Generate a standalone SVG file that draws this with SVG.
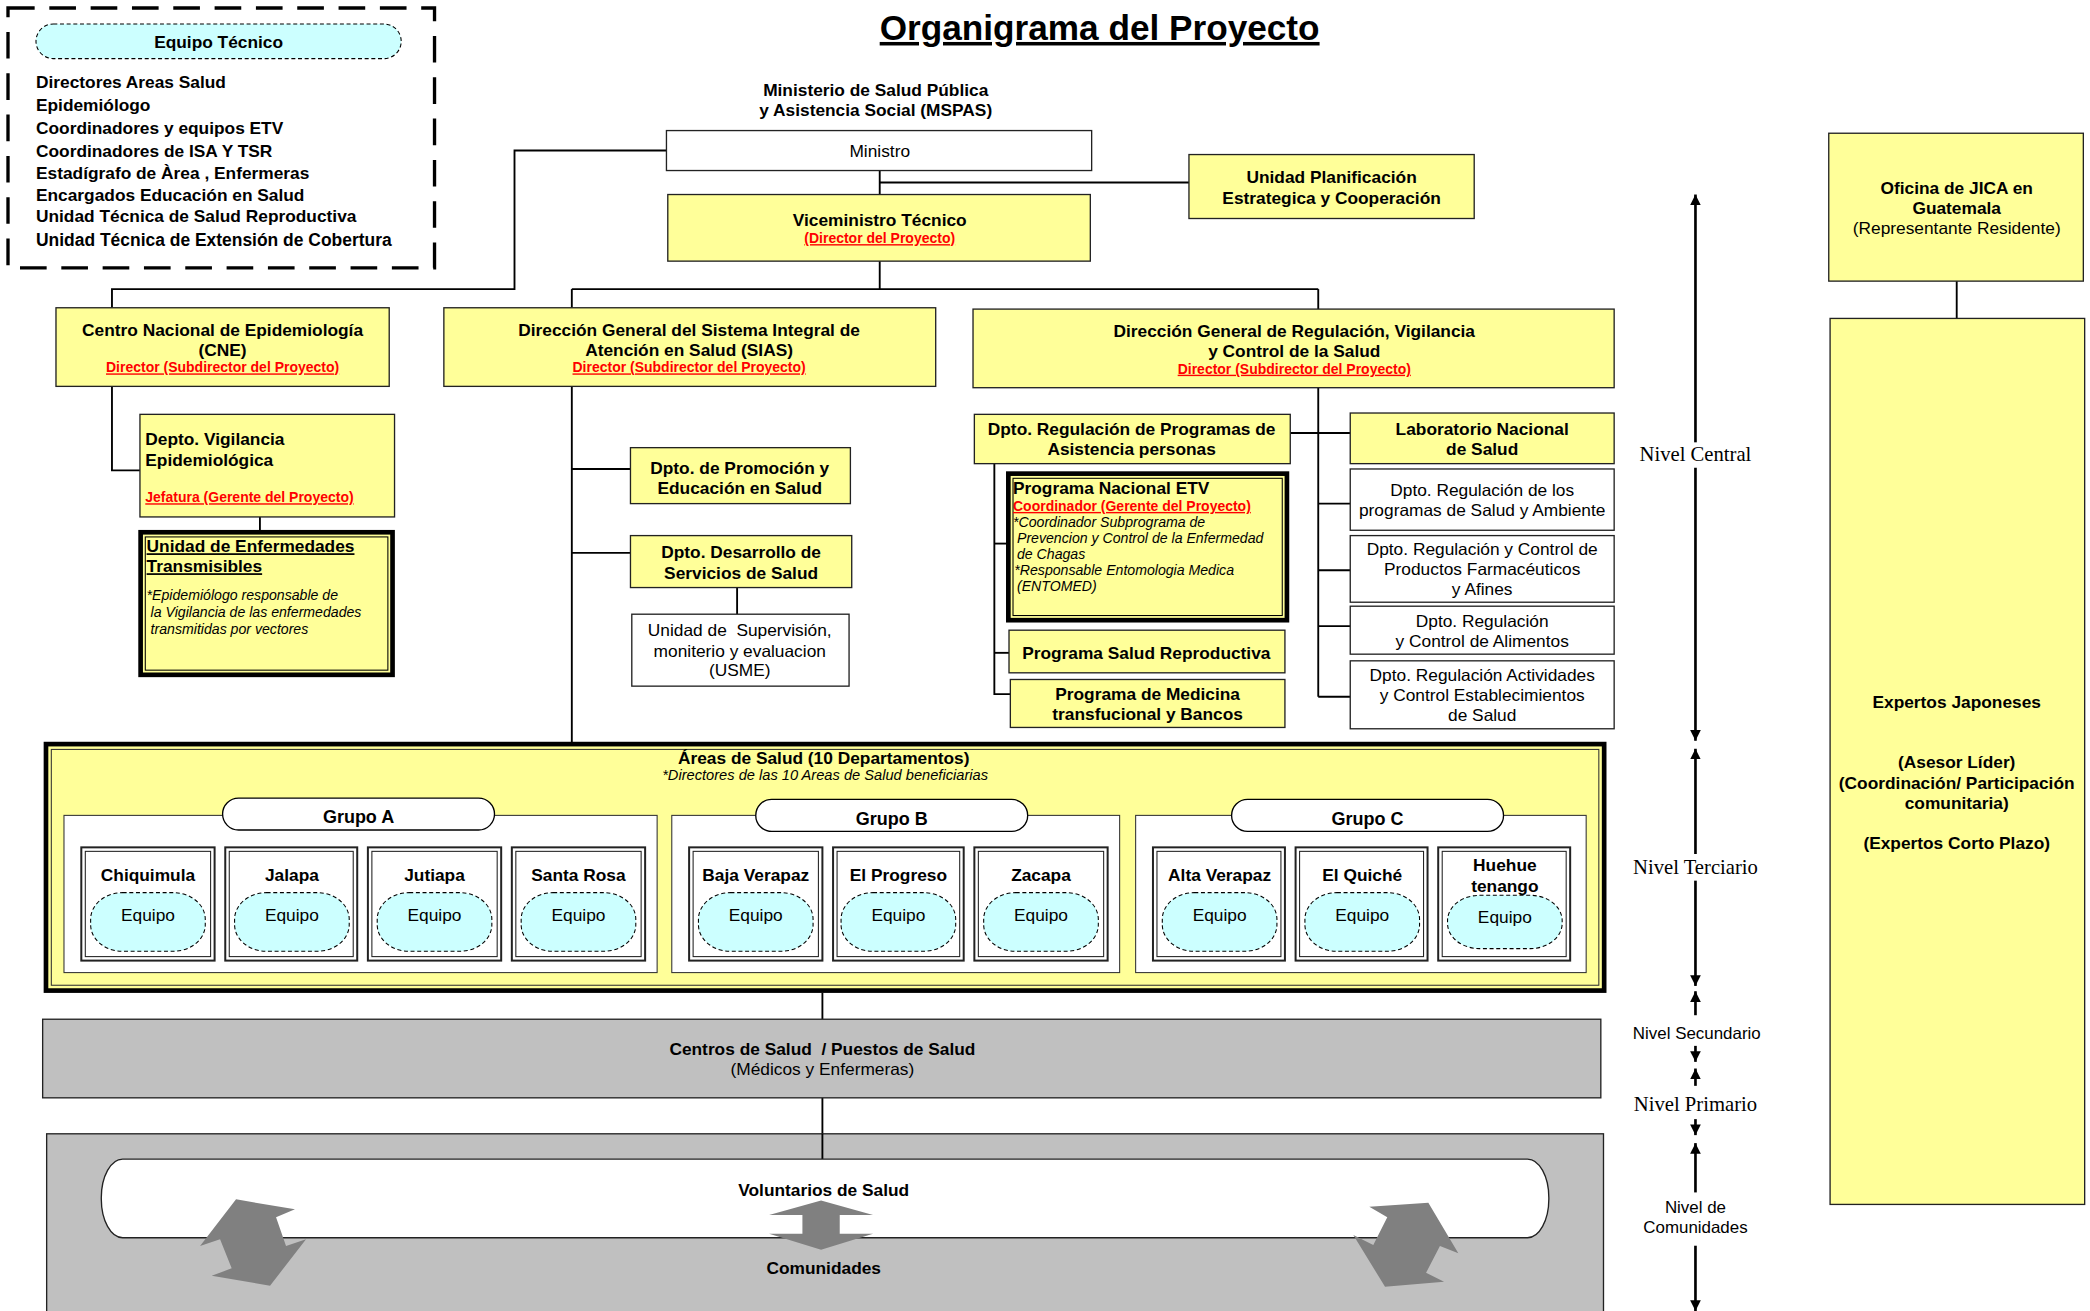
<svg xmlns="http://www.w3.org/2000/svg" width="2090" height="1311" viewBox="0 0 2090 1311">
<style>
text{font-family:"Liberation Sans",Arial,sans-serif;fill:#000}
.b{font-weight:bold;font-size:13px}
.r{font-size:13px}
.m{text-anchor:middle}
.red{font-weight:bold;font-size:10.5px;fill:#ff0000;text-decoration:underline}
.it{font-style:italic;font-size:10.6px}
.tm{font-family:"Liberation Serif","Times New Roman",serif;font-size:15.5px}
.j{font-size:13px}
.y{fill:#ffff99;stroke:#222;stroke-width:1}
.w{fill:#fff;stroke:#222;stroke-width:1}
.g{fill:#c0c0c0;stroke:#222;stroke-width:1}
.eq{fill:#ccffff;stroke:#000;stroke-width:0.8;stroke-dasharray:3 2}
.c{fill:none;stroke:#000;stroke-width:1.4}
.lv{fill:none;stroke:#000;stroke-width:2}
.ga{fill:#808080;stroke:none}
</style>
<defs>
<marker id="ah" viewBox="0 0 10 10" refX="10" refY="5" markerWidth="4" markerHeight="4.5" orient="auto-start-reverse" markerUnits="strokeWidth">
<path d="M0,0 L10,5 L0,10 z" fill="#000"/>
</marker>
</defs>
<g transform="scale(1.33291,1.33232)">

<text class="m" x="825" y="30" style="font-weight:bold;font-size:26.4px;text-decoration:underline">Organigrama del Proyecto</text>

<g id="equipo-tecnico">
<rect x="6" y="6" width="320" height="195" fill="#fff" stroke="#000" stroke-width="2.5" stroke-dasharray="20 11"/>
<rect x="27" y="18" width="274" height="26" rx="13" class="eq"/>
<text class="b m" x="164" y="36">Equipo Técnico</text>
<text class="b" x="27" y="66">Directores Areas Salud</text>
<text class="b" x="27" y="83.5">Epidemiólogo</text>
<text class="b" x="27" y="100.5">Coordinadores y equipos ETV</text>
<text class="b" x="27" y="117.5">Coordinadores de ISA Y TSR</text>
<text class="b" x="27" y="134.5">Estadígrafo de Àrea , Enfermeras</text>
<text class="b" x="27" y="151">Encargados Educación en Salud</text>
<text class="b" x="27" y="167">Unidad Técnica de Salud Reproductiva</text>
<text class="b" x="27" y="184.5" style="font-size:13.1px">Unidad Técnica de Extensión de Cobertura</text>
</g>

<g id="connectors">
<path class="c" d="M500,113 H386 V217 H84 V231"/>
<path class="c" d="M660,128 V146"/>
<path class="c" d="M660,137 H892"/>
<path class="c" d="M660,196 V217"/>
<path class="c" d="M429,217 H989"/>
<path class="c" d="M429,217 V231"/>
<path class="c" d="M989,217 V232"/>
<path class="c" d="M84,290 V353 H105"/>
<path class="c" d="M195,388 V398"/>
<path class="c" d="M429,290 V557"/>
<path class="c" d="M429,352 H473"/>
<path class="c" d="M429,415 H473"/>
<path class="c" d="M553,441 V461"/>
<path class="c" d="M989,291 V523"/>
<path class="c" d="M968,325 H1013"/>
<path class="c" d="M989,378 H1013"/>
<path class="c" d="M989,428 H1013"/>
<path class="c" d="M989,470 H1013"/>
<path class="c" d="M989,523 H1013"/>
<path class="c" d="M746,348 V521 H758"/>
<path class="c" d="M746,408 H755"/>
<path class="c" d="M746,490 H757"/>
<path class="c" d="M617,745 V765"/>
<path class="c" d="M617,824 V870"/>
<path class="c" d="M1468,211 V239"/>
</g>

<g id="mspas">
<text class="b m" x="657" y="72">Ministerio de Salud Pública</text>
<text class="b m" x="657" y="87">y Asistencia Social (MSPAS)</text>
</g>
<g id="ministro">
<rect class="w" x="500" y="98" width="319" height="30"/>
<text class="r m" x="660" y="117.5">Ministro</text>
</g>
<g id="viceministro">
<rect class="y" x="501" y="146" width="317" height="50"/>
<text class="b m" x="660" y="169.5">Viceministro Técnico</text>
<text class="red m" x="660" y="182.5">(Director del Proyecto)</text>
</g>
<g id="unidad-planificacion">
<rect class="y" x="892" y="116" width="214" height="48"/>
<text class="b m" x="999" y="137">Unidad Planificación</text>
<text class="b m" x="999" y="153">Estrategica y Cooperación</text>
</g>

<g id="cne">
<rect class="y" x="42" y="231" width="250" height="59"/>
<text class="b m" x="167" y="252">Centro Nacional de Epidemiología</text>
<text class="b m" x="167" y="267">(CNE)</text>
<text class="red m" x="167" y="279.5">Director (Subdirector del Proyecto)</text>
</g>
<g id="sias">
<rect class="y" x="333" y="231" width="369" height="59"/>
<text class="b m" x="517" y="252">Dirección General del Sistema Integral de</text>
<text class="b m" x="517" y="267">Atención en Salud (SIAS)</text>
<text class="red m" x="517" y="279.5">Director (Subdirector del Proyecto)</text>
</g>
<g id="dg-regulacion">
<rect class="y" x="730" y="232" width="481" height="59"/>
<text class="b m" x="971" y="253">Dirección General de Regulación, Vigilancia</text>
<text class="b m" x="971" y="268">y Control de la Salud</text>
<text class="red m" x="971" y="280.5">Director (Subdirector del Proyecto)</text>
</g>

<g id="depto-vigilancia">
<rect class="y" x="105" y="311" width="191" height="77"/>
<text class="b" x="109" y="334">Depto. Vigilancia</text>
<text class="b" x="109" y="349.5">Epidemiológica</text>
<text class="red" x="109" y="377">Jefatura (Gerente del Proyecto)</text>
</g>
<g id="unidad-enfermedades">
<rect x="105.5" y="399.5" width="189" height="107" fill="#ffff99" stroke="#000" stroke-width="3.5"/>
<rect x="109" y="403" width="182" height="100" fill="none" stroke="#000" stroke-width="0.8"/>
<text class="b" x="110" y="414.5" style="text-decoration:underline">Unidad de Enfermedades</text>
<text class="b" x="110" y="429.5" style="text-decoration:underline">Transmisibles</text>
<text class="it" x="110" y="450.5">*Epidemiólogo responsable de</text>
<text class="it" x="113" y="463">la Vigilancia de las enfermedades</text>
<text class="it" x="113" y="475.5">transmitidas por vectores</text>
</g>

<g id="promocion">
<rect class="y" x="473" y="336" width="165" height="42"/>
<text class="b m" x="555" y="355.5">Dpto. de Promoción y</text>
<text class="b m" x="555" y="370.5">Educación en Salud</text>
</g>
<g id="desarrollo">
<rect class="y" x="473" y="402" width="166" height="39"/>
<text class="b m" x="556" y="418.5">Dpto. Desarrollo de</text>
<text class="b m" x="556" y="434.5">Servicios de Salud</text>
</g>
<g id="usme">
<rect class="w" x="474" y="461" width="163" height="54"/>
<text class="r m" x="555" y="477.5" xml:space="preserve">Unidad de  Supervisión,</text>
<text class="r m" x="555" y="493.5">moniterio y evaluacion</text>
<text class="r m" x="555" y="507.5">(USME)</text>
</g>

<g id="dpto-regulacion-programas">
<rect class="y" x="731" y="311" width="237" height="37"/>
<text class="b m" x="849" y="326.5">Dpto. Regulación de Programas de</text>
<text class="b m" x="849" y="341.5">Asistencia personas</text>
</g>
<g id="programa-etv">
<rect x="756.5" y="355.5" width="209" height="110" fill="#ffff99" stroke="#000" stroke-width="3.5"/>
<rect x="760" y="359" width="202" height="103" fill="none" stroke="#000" stroke-width="0.8"/>
<text class="b" x="760" y="370.5">Programa Nacional ETV</text>
<text class="red" x="760" y="383.5">Coordinador (Gerente del Proyecto)</text>
<text class="it" x="760" y="395.5">*Coordinador Subprograma de</text>
<text class="it" x="763" y="407.5">Prevencion y Control de la Enfermedad</text>
<text class="it" x="763" y="419.5">de Chagas</text>
<text class="it" x="761" y="431.5">*Responsable Entomologia Medica</text>
<text class="it" x="763" y="443.5">(ENTOMED)</text>
</g>
<g id="salud-reproductiva">
<rect class="y" x="757" y="473" width="207" height="32"/>
<text class="b m" x="860" y="494.5">Programa Salud Reproductiva</text>
</g>
<g id="medicina-transfusional">
<rect class="y" x="758" y="510" width="206" height="36"/>
<text class="b m" x="861" y="525.5">Programa de Medicina</text>
<text class="b m" x="861" y="540.5">transfucional y Bancos</text>
</g>

<g id="laboratorio">
<rect class="y" x="1013" y="310" width="198" height="38"/>
<text class="b m" x="1112" y="326.5">Laboratorio Nacional</text>
<text class="b m" x="1112" y="341.5">de Salud</text>
</g>
<g id="salud-ambiente">
<rect class="w" x="1013" y="352" width="198" height="46"/>
<text class="r m" x="1112" y="372.5">Dpto. Regulación de los</text>
<text class="r m" x="1112" y="387.5">programas de Salud y Ambiente</text>
</g>
<g id="farmaceuticos">
<rect class="w" x="1013" y="402" width="198" height="50"/>
<text class="r m" x="1112" y="416.5">Dpto. Regulación y Control de</text>
<text class="r m" x="1112" y="431.5">Productos Farmacéuticos</text>
<text class="r m" x="1112" y="446.5">y Afines</text>
</g>
<g id="alimentos">
<rect class="w" x="1013" y="455" width="198" height="36"/>
<text class="r m" x="1112" y="470.5">Dpto. Regulación</text>
<text class="r m" x="1112" y="485.5">y Control de Alimentos</text>
</g>
<g id="establecimientos">
<rect class="w" x="1013" y="496" width="198" height="51"/>
<text class="r m" x="1112" y="511.5">Dpto. Regulación Actividades</text>
<text class="r m" x="1112" y="526.5">y Control Establecimientos</text>
<text class="r m" x="1112" y="541.5">de Salud</text>
</g>

<g id="areas-salud">
<rect x="34.5" y="558.5" width="1169" height="185" fill="#ffff99" stroke="#000" stroke-width="3.5"/>
<rect x="38.5" y="562.5" width="1161" height="177" fill="none" stroke="#333" stroke-width="0.8"/>
<text class="b m" x="618" y="573.5">Áreas de Salud (10 Departamentos)</text>
<text class="it m" x="619" y="585.5" style="font-size:11px">*Directores de las 10 Areas de Salud beneficiarias</text>
</g>

<g id="grupo-a">
<rect x="48" y="612" width="445" height="118" fill="#fff" stroke="#333" stroke-width="0.8"/>
<rect x="167" y="599" width="204" height="24" rx="12" fill="#fff" stroke="#000" stroke-width="1"/>
<text class="b m" x="269" y="618" style="font-size:13.5px">Grupo A</text>
</g>
<g id="grupo-b">
<rect x="504" y="612" width="336" height="118" fill="#fff" stroke="#333" stroke-width="0.8"/>
<rect x="567" y="600" width="204" height="24" rx="12" fill="#fff" stroke="#000" stroke-width="1"/>
<text class="b m" x="669" y="619" style="font-size:13.5px">Grupo B</text>
</g>
<g id="grupo-c">
<rect x="852" y="612" width="338" height="118" fill="#fff" stroke="#333" stroke-width="0.8"/>
<rect x="924" y="600" width="204" height="24" rx="12" fill="#fff" stroke="#000" stroke-width="1"/>
<text class="b m" x="1026" y="619" style="font-size:13.5px">Grupo C</text>
</g>

<g id="chiquimula">
<rect x="61" y="636" width="100" height="85" fill="#fff" stroke="#222" stroke-width="1.5"/>
<rect x="64" y="639" width="94" height="79" fill="none" stroke="#222" stroke-width="0.8"/>
<text class="b m" x="111" y="661">Chiquimula</text>
<rect class="eq" x="68" y="670" width="86" height="44" rx="24" ry="20"/>
<text class="r m" x="111" y="691.5">Equipo</text>
</g>
<g id="jalapa">
<rect x="169" y="636" width="99" height="85" fill="#fff" stroke="#222" stroke-width="1.5"/>
<rect x="172" y="639" width="93" height="79" fill="none" stroke="#222" stroke-width="0.8"/>
<text class="b m" x="219" y="661">Jalapa</text>
<rect class="eq" x="176" y="670" width="86" height="44" rx="24" ry="20"/>
<text class="r m" x="219" y="691.5">Equipo</text>
</g>
<g id="jutiapa">
<rect x="276" y="636" width="100" height="85" fill="#fff" stroke="#222" stroke-width="1.5"/>
<rect x="279" y="639" width="94" height="79" fill="none" stroke="#222" stroke-width="0.8"/>
<text class="b m" x="326" y="661">Jutiapa</text>
<rect class="eq" x="283" y="670" width="86" height="44" rx="24" ry="20"/>
<text class="r m" x="326" y="691.5">Equipo</text>
</g>
<g id="santa-rosa">
<rect x="384" y="636" width="100" height="85" fill="#fff" stroke="#222" stroke-width="1.5"/>
<rect x="387" y="639" width="94" height="79" fill="none" stroke="#222" stroke-width="0.8"/>
<text class="b m" x="434" y="661">Santa Rosa</text>
<rect class="eq" x="391" y="670" width="86" height="44" rx="24" ry="20"/>
<text class="r m" x="434" y="691.5">Equipo</text>
</g>
<g id="baja-verapaz">
<rect x="517" y="636" width="100" height="85" fill="#fff" stroke="#222" stroke-width="1.5"/>
<rect x="520" y="639" width="94" height="79" fill="none" stroke="#222" stroke-width="0.8"/>
<text class="b m" x="567" y="661">Baja Verapaz</text>
<rect class="eq" x="524" y="670" width="86" height="44" rx="24" ry="20"/>
<text class="r m" x="567" y="691.5">Equipo</text>
</g>
<g id="el-progreso">
<rect x="625" y="636" width="98" height="85" fill="#fff" stroke="#222" stroke-width="1.5"/>
<rect x="628" y="639" width="92" height="79" fill="none" stroke="#222" stroke-width="0.8"/>
<text class="b m" x="674" y="661">El Progreso</text>
<rect class="eq" x="631" y="670" width="86" height="44" rx="24" ry="20"/>
<text class="r m" x="674" y="691.5">Equipo</text>
</g>
<g id="zacapa">
<rect x="731" y="636" width="100" height="85" fill="#fff" stroke="#222" stroke-width="1.5"/>
<rect x="734" y="639" width="94" height="79" fill="none" stroke="#222" stroke-width="0.8"/>
<text class="b m" x="781" y="661">Zacapa</text>
<rect class="eq" x="738" y="670" width="86" height="44" rx="24" ry="20"/>
<text class="r m" x="781" y="691.5">Equipo</text>
</g>
<g id="alta-verapaz">
<rect x="865" y="636" width="99" height="85" fill="#fff" stroke="#222" stroke-width="1.5"/>
<rect x="868" y="639" width="93" height="79" fill="none" stroke="#222" stroke-width="0.8"/>
<text class="b m" x="915" y="661">Alta Verapaz</text>
<rect class="eq" x="872" y="670" width="86" height="44" rx="24" ry="20"/>
<text class="r m" x="915" y="691.5">Equipo</text>
</g>
<g id="el-quiche">
<rect x="972" y="636" width="99" height="85" fill="#fff" stroke="#222" stroke-width="1.5"/>
<rect x="975" y="639" width="93" height="79" fill="none" stroke="#222" stroke-width="0.8"/>
<text class="b m" x="1022" y="661">El Quiché</text>
<rect class="eq" x="979" y="670" width="86" height="44" rx="24" ry="20"/>
<text class="r m" x="1022" y="691.5">Equipo</text>
</g>
<g id="huehuetenango">
<rect x="1079" y="636" width="99" height="85" fill="#fff" stroke="#222" stroke-width="1.5"/>
<rect x="1082" y="639" width="93" height="79" fill="none" stroke="#222" stroke-width="0.8"/>
<text class="b m" x="1129" y="653.5">Huehue</text>
<text class="b m" x="1129" y="669.5">tenango</text>
<rect class="eq" x="1086" y="672" width="86" height="40" rx="24" ry="19"/>
<text class="r m" x="1129" y="693">Equipo</text>
</g>

<g id="centros-salud">
<rect class="g" x="32" y="765" width="1169" height="59"/>
<text class="b m" x="617" y="791.5" xml:space="preserve">Centros de Salud  / Puestos de Salud</text>
<text class="r m" x="617" y="806.5">(Médicos y Enfermeras)</text>
</g>

<g id="comunidades">
<rect class="g" x="35" y="851" width="1168" height="150"/>
<line class="c" x1="617" y1="851" x2="617" y2="870"/>
<rect x="76" y="870" width="1086" height="59" rx="16" ry="29" fill="#fff" stroke="#222" stroke-width="1"/>
<text class="b m" x="618" y="897.5">Voluntarios de Salud</text>
<text class="b m" x="618" y="956.5">Comunidades</text>
<path class="ga" d="M177.1,900.2 L221.3,907.7 L207.1,913.7 L214.6,935.2 L229.6,930.2 L202.6,965 L158.8,957.5 L173.8,952 L165.1,930.2 L150.1,935.2 Z"/>
<path class="ga" d="M616,901 L655,912 L630,912 L630,926 L655,926 L616,938 L577,926 L602,926 L602,912 L577,912 Z"/>
<path class="ga" d="M1071.6,902.7 L1094.1,940.7 L1080.3,935.2 L1069.9,955.3 L1083.4,962 L1039.1,965.8 L1015.3,927 L1030.3,934.5 L1040.8,913.7 L1027.3,905.8 Z"/>
</g>

<g id="niveles">
<line class="lv" x1="1272" y1="332" x2="1272" y2="146" marker-end="url(#ah)"/>
<line class="lv" x1="1272" y1="351" x2="1272" y2="556" marker-end="url(#ah)"/>
<text class="tm m" x="1272" y="346">Nivel Central</text>
<line class="lv" x1="1272" y1="641" x2="1272" y2="562" marker-end="url(#ah)"/>
<line class="lv" x1="1272" y1="661" x2="1272" y2="740" marker-end="url(#ah)"/>
<text class="tm m" x="1272" y="656">Nivel Terciario</text>
<line class="lv" x1="1272" y1="762" x2="1272" y2="744" marker-end="url(#ah)"/>
<text class="r m" x="1273" y="779.5" style="font-size:12.7px">Nivel Secundario</text>
<line class="lv" x1="1272" y1="785" x2="1272" y2="797" marker-end="url(#ah)"/>
<line class="lv" x1="1272" y1="815" x2="1272" y2="802" marker-end="url(#ah)"/>
<text class="tm m" x="1272" y="834">Nivel Primario</text>
<line class="lv" x1="1272" y1="840" x2="1272" y2="852" marker-end="url(#ah)"/>
<line class="lv" x1="1272" y1="895" x2="1272" y2="858" marker-end="url(#ah)"/>
<text class="r m" x="1272" y="910.5" style="font-size:12.7px">Nivel de</text>
<text class="r m" x="1272" y="925.5" style="font-size:12.7px">Comunidades</text>
<line class="lv" x1="1272" y1="935" x2="1272" y2="984" marker-end="url(#ah)"/>
</g>

<g id="jica">
<rect class="y" x="1372" y="100" width="191" height="111"/>
<text class="b m j" x="1468" y="145.5">Oficina de JICA en</text>
<text class="b m j" x="1468" y="160.5">Guatemala</text>
<text class="r m j" x="1468" y="175.5">(Representante Residente)</text>
</g>
<g id="expertos">
<rect class="y" x="1373" y="239" width="191" height="665"/>
<text class="b m j" x="1468" y="531.5">Expertos Japoneses</text>
<text class="b m j" x="1468" y="576.5">(Asesor Líder)</text>
<text class="b m j" x="1468" y="592">(Coordinación/ Participación</text>
<text class="b m j" x="1468" y="607.5">comunitaria)</text>
<text class="b m j" x="1468" y="637.5">(Expertos Corto Plazo)</text>
</g>
</g>
</svg>
